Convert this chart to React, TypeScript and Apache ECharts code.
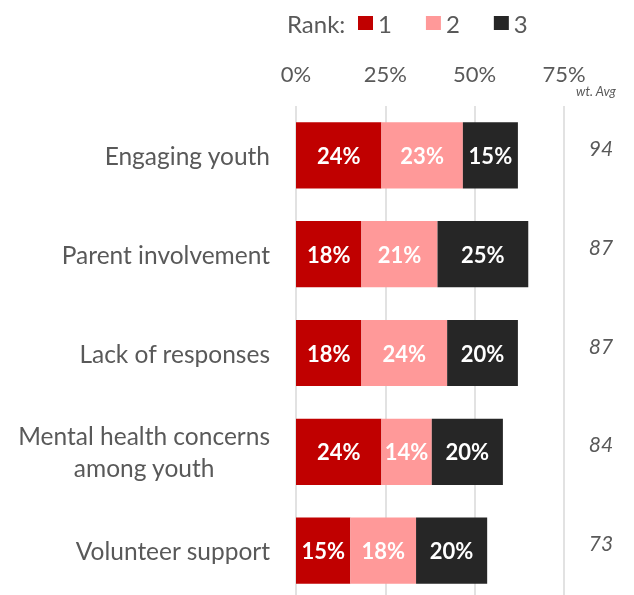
import React, { useEffect, useRef } from "react";
import * as echarts from "echarts";

const categories = [
  "Engaging youth",
  "Parent involvement",
  "Lack of responses",
  "Mental health concerns\namong youth",
  "Volunteer support",
];
const rank1 = [23.9, 18.3, 18.3, 23.9, 15.2];
const rank2 = [22.8, 21.3, 24.0, 14.1, 18.4];
const rank3 = [15.4, 25.4, 19.8, 19.9, 19.9];
const wtAvg = ["94", "87", "87", "84", "73"];
const seriesNames = ["1", "2", "3"];
const colors = ["#C00000", "#FF9999", "#262626"];
const xTicks = { min: 0, max: 75, interval: 25 };

export default function App() {
  const ref = useRef<HTMLDivElement>(null);
  useEffect(() => {
    if (!ref.current) return;
    const chart = echarts.init(ref.current, undefined, { renderer: "svg" });
    const font = "Lato";
    const gray = "#595959";
    const values = [rank1, rank2, rank3];
    chart.setOption({
      animation: false,
      textStyle: { fontFamily: font },
      legend: {
        data: seriesNames,
        left: 358,
        top: 11,
        padding: 0,
        icon: "rect",
        itemWidth: 15,
        itemHeight: 14,
        itemGap: 34,
        textStyle: { color: gray, fontSize: 24, fontFamily: font },
      },
      graphic: [
        {
          type: "text",
          left: 287,
          top: 11,
          style: { text: "Rank:", fill: gray, fontSize: 24, fontFamily: font },
        },
        {
          type: "text",
          left: 576,
          top: 84,
          style: {
            text: "wt. Avg",
            fill: gray,
            fontSize: 13,
            fontStyle: "italic",
            fontFamily: font,
          },
        },
      ],
      grid: { left: 296, right: 70, top: 106, bottom: 0, containLabel: false },
      xAxis: {
        type: "value",
        position: "top",
        min: xTicks.min,
        max: xTicks.max,
        interval: xTicks.interval,
        axisLine: { show: false },
        axisTick: { show: false },
        axisLabel: {
          formatter: "{value}%",
          color: gray,
          fontSize: 22,
          margin: 22,
          fontFamily: font,
        },
        splitLine: { show: true, lineStyle: { color: "#D9D9D9", width: 1.5 } },
      },
      yAxis: [
        {
          type: "category",
          inverse: true,
          data: categories,
          axisLine: { show: false },
          axisTick: { show: false },
          axisLabel: {
            color: gray,
            fontSize: 24.5,
            margin: 26,
            fontFamily: font,
            lineHeight: 32,
            formatter: (v: string) =>
              v.indexOf("\n") >= 0
                ? v
                    .split("\n")
                    .map((s) => "{c|" + s + "}")
                    .join("\n")
                : v,
            rich: {
              c: {
                align: "center",
                color: gray,
                fontSize: 24.5,
                fontFamily: font,
                lineHeight: 32,
              },
            },
          },
        },
        {
          type: "category",
          inverse: true,
          position: "right",
          data: wtAvg,
          axisLine: { show: false },
          axisTick: { show: false },
          splitLine: { show: false },
          axisLabel: {
            color: gray,
            fontSize: 21,
            fontStyle: "italic",
            fontFamily: font,
            align: "center",
            verticalAlign: "bottom",
            lineHeight: 16,
            margin: 37,
          },
        },
      ],
      series: seriesNames.map((name, i) => ({
        name,
        type: "bar",
        stack: "total",
        yAxisIndex: 0,
        barCategoryGap: "33%",
        data: values[i],
        itemStyle: { color: colors[i] },
        label: {
          show: true,
          position: "inside",
          color: "#FFFFFF",
          fontWeight: "bold",
          fontSize: 22,
          fontFamily: font,
          formatter: (p: any) => Math.round(p.value) + "%",
        },
      })),
    });
    return () => chart.dispose();
  }, []);
  return (
    <div
      ref={ref}
      style={{ position: "fixed", left: 0, top: 0, width: 634, height: 600 }}
    />
  );
}
